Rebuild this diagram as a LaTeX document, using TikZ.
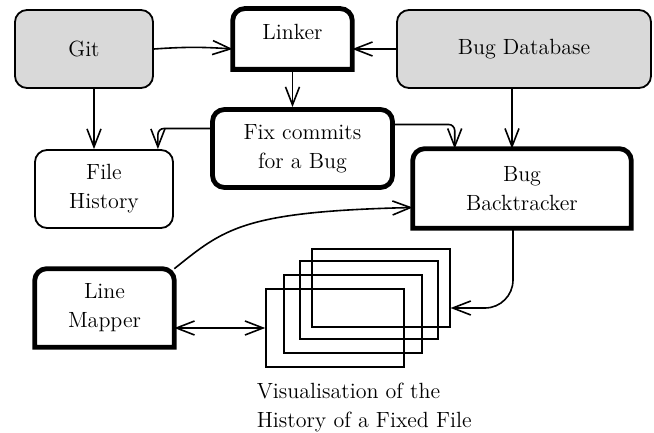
\documentclass[tikz,border=0pt]{standalone}
\usetikzlibrary{arrows.meta, positioning}

\begin{document}
\begin{tikzpicture}[
    x = 0.5pt, y = -0.5pt,
    font = \fontsize{11}{14.5}\selectfont,
    > = {Straight Barb[length=9pt, width=7pt]}, % open barbs
    line width = 0.8pt,
    box/.style={draw, rounded corners=6pt, align=center, inner sep=0pt, line width=0.9pt},
    source/.style={box, fill=gray!30},
    tool/.style={align=center, inner sep=0pt},
    toolline/.style={line width=2.4pt},
    page/.style={draw, minimum width=69pt, minimum height=39pt, line width=0.8pt}
]
\useasboundingbox (0,0) rectangle (654,433);

% --- inputs ---
\node[source, minimum width=69pt, minimum height=39pt] (git) at (84,49) {Git};
\node[source, minimum width=127pt, minimum height=39pt] (bugdb) at (524,49) {Bug Database};

% --- tools ---
\node[tool, minimum width=59pt, minimum height=29.6pt, text depth=7pt] (linker) at (292.5,39) {Linker};
\node[box, line width=2.4pt, minimum width=90pt, minimum height=39pt] (fix) at (302.5,148.5) {Fix commits\\for a Bug};
\node[box, minimum width=69pt, minimum height=39pt] (filehist) at (104,189) {File\\History};
\node[tool, minimum width=108.5pt, minimum height=39pt] (bugback) at (522,188.5) {Bug\\Backtracker};
\node[tool, minimum width=69pt, minimum height=38.5pt] (linemap) at (104.5,308) {Line\\Mapper};

% boxes with rounded top corners only
\draw[toolline] (linker.south west) [rounded corners=6pt] -- (linker.north west) -- (linker.north east) [sharp corners] -- (linker.south east) -- cycle;
\draw[toolline] (bugback.south west) [rounded corners=6pt] -- (bugback.north west) -- (bugback.north east) [sharp corners] -- (bugback.south east) -- cycle;
\draw[toolline] (linemap.south west) [rounded corners=6pt] -- (linemap.north west) -- (linemap.north east) [sharp corners] -- (linemap.south east) -- cycle;

% --- visualisation: stack of pages ---
\node[page] (r1) at (380.8,288) {};
\node[page] (r2) at (369,300) {};
\node[page] (r3) at (353,314) {};
\node[page] (r4) at (335,328) {};
\node[align=left, anchor=north west, inner sep=0pt] (caption) at (256,382) {Visualisation of the\\History of a Fixed File};

% --- connectors ---
\draw[->] (git.east) to[bend left=4] (git.east -| linker.west);
\draw[->] (bugdb.west) -- (bugdb.west -| linker.east);
\draw[->] (linker.south) -- (linker.south |- fix.north);
\draw[->] ([xshift=5pt]git.south) -- ([xshift=5pt]git.south |- filehist.north);
\draw[->, rounded corners=3pt] ([yshift=10pt]fix.west) -| ([xshift=-8pt]filehist.north east);
\draw[->, rounded corners=3pt] ([yshift=12pt]fix.east) -| ([xshift=21pt]bugback.north west);
\draw[->] ([xshift=-6pt]bugdb.south) -- ([xshift=-6pt]bugdb.south |- bugback.north);
\draw[->] (linemap.north east) .. controls +(50,-40) and +(-170,4) .. ([yshift=-9.5pt]bugback.west);
\draw[->, rounded corners=14pt] ([xshift=-4.5pt]bugback.south) |- ([yshift=-10pt]r1.east);
\draw[<->] (linemap.east |- r4.west) -- (r4.west);

\end{tikzpicture}
\end{document}
